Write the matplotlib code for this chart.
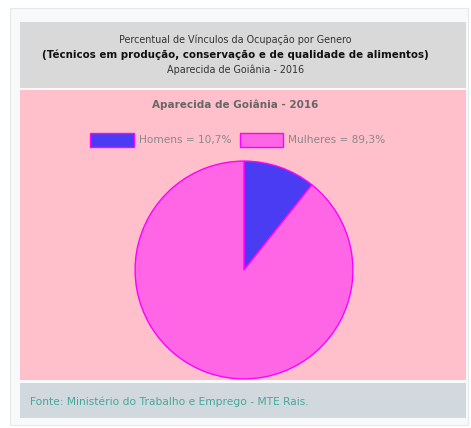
import matplotlib.pyplot as plt
from matplotlib.patches import Rectangle

# Dados
categorias = ['Homens', 'Mulheres']
percentuais = [10.7, 89.3]
cores = ['#4a3cf2', '#ff66e6']
local_ano = 'Aparecida de Goiânia - 2016'
ocupacao = 'Técnicos em produção, conservação e de qualidade de alimentos'

W, H = 471, 428
fig = plt.figure(figsize=(W / 100, H / 100), dpi=100)
fig.patch.set_facecolor('white')


def caixa(x0, y0, x1, y1, cor, borda='none'):
    # coordenadas em pixels a partir do topo
    fig.patches.append(Rectangle((x0 / W, 1 - y1 / H), (x1 - x0) / W, (y1 - y0) / H,
                                 transform=fig.transFigure, facecolor=cor,
                                 edgecolor=borda, lw=0.8, zorder=-1))


caixa(10, 8, 468, 425, '#f7f9fa', '#e6e9eb')
caixa(20, 22, 466, 88, '#d9d9d9')
caixa(20, 90, 466, 380, '#ffc0cb')
caixa(20, 383, 466, 418, '#d1d9df')

# Cabeçalho
fig.text(0.5, 1 - 40 / H, 'Percentual de Vínculos da Ocupação por Genero',
         ha='center', va='center', fontsize=6.9, color='#333333')
fig.text(0.5, 1 - 55 / H, '(' + ocupacao + ')', ha='center', va='center',
         fontsize=7.4, fontweight='bold', color='#111111')
fig.text(0.5, 1 - 70 / H, local_ano, ha='center', va='center',
         fontsize=6.9, color='#333333')

# Título do gráfico
fig.text(0.5, 1 - 105 / H, local_ano, ha='center', va='center',
         fontsize=7.5, fontweight='bold', color='#666666')

# Pizza
ax = fig.add_axes([134 / W, 1 - 380 / H, 220 / W, 220 / H])
ax.set_facecolor('none')
wedges, _ = ax.pie(percentuais, colors=cores, startangle=90, counterclock=False,
                   radius=1, wedgeprops=dict(edgecolor='#ff00ff', linewidth=1.0))
ax.set_xlim(-1.01, 1.01)
ax.set_ylim(-1.01, 1.01)
ax.set_aspect('equal')
ax.axis('off')

rotulos = [f'{c} = {str(p).replace(".", ",")}%' for c, p in zip(categorias, percentuais)]
leg = fig.legend(wedges, rotulos, loc='center', bbox_to_anchor=(238 / W, 1 - 140 / H),
                 ncol=2, frameon=False, fontsize=7.6, handlelength=4.1, handleheight=1.6,
                 handletextpad=0.5, columnspacing=0.8, labelcolor='#888888')

# Rodapé
fig.text(30 / W, 1 - 402 / H, 'Fonte: Ministério do Trabalho e Emprego - MTE Rais.',
         ha='left', va='center', fontsize=7.7, color='#45a79a')

fig.savefig('out.png', dpi=100, facecolor=fig.get_facecolor())
